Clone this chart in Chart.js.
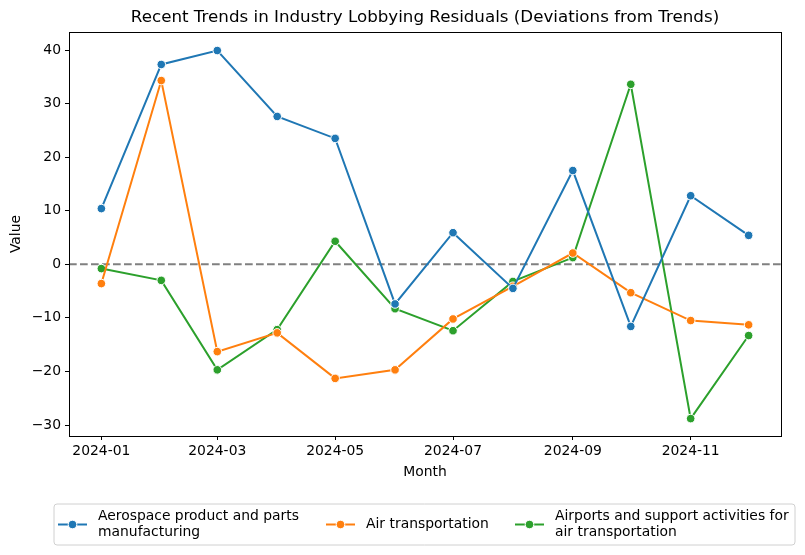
<!DOCTYPE html>
<html>
<head>
<meta charset="utf-8">
<script src="https://cdn.jsdelivr.net/npm/chart.js@4.4.1/dist/chart.umd.min.js"></script>
<style>
  html, body { margin: 0; padding: 0; background: #ffffff; }
  #wrap { width: 805px; height: 555px; position: relative; }
</style>
</head>
<body>
<div id="wrap"><canvas id="c" width="805" height="555"></canvas></div>
<script>
// ---- Data ----
const months = ['2024-01','2024-02','2024-03','2024-04','2024-05','2024-06','2024-07','2024-08','2024-09','2024-10','2024-11','2024-12'];
const aerospace = [10.4, 37.3, 39.9, 27.6, 23.5, -7.4, 5.9, -4.5, 17.5, -11.6, 12.8, 5.4];
const airTransport = [-3.6, 34.3, -16.3, -12.8, -21.3, -19.7, -10.2, -4.1, 2.1, -5.3, -10.5, -11.3];
const airports = [-0.8, -3.0, -19.7, -12.2, 4.3, -8.3, -12.4, -3.2, 1.25, 33.6, -28.8, -13.3];
const xTickLabels = ['2024-01','2024-03','2024-05','2024-07','2024-09','2024-11'];
const yTickValues = [-30, -20, -10, 0, 10, 20, 30, 40];
const seriesNames = [['Aerospace product and parts', 'manufacturing'], ['Air transportation'], ['Airports and support activities for', 'air transportation']];
const titleText = 'Recent Trends in Industry Lobbying Residuals (Deviations from Trends)';

// day offset from 2024-01-01 for a 'YYYY-MM' label
const DAY = 86400000;
function dayOf(label) {
  const [y, m] = label.split('-').map(Number);
  return (Date.UTC(y, m - 1, 1) - Date.UTC(2024, 0, 1)) / DAY;
}
const xs = months.map(dayOf);
const xSpan = xs[xs.length - 1] - xs[0];
const colors = ['#1f77b4', '#ff7f0e', '#2ca02c'];
const FONT = '"DejaVu Sans", sans-serif';
const LW = 2;

function mk(vals, i) {
  return {
    label: seriesNames[i].join(' '),
    data: vals.map((v, k) => ({ x: xs[k], y: v })),
    borderColor: colors[i],
    backgroundColor: colors[i],
    pointBackgroundColor: colors[i],
    pointBorderColor: '#ffffff',
    pointBorderWidth: 1,
    pointRadius: 4.3,
    pointHoverRadius: 4.3,
    borderWidth: LW,
    tension: 0
  };
}

const customDraw = {
  id: 'customDraw',
  beforeDatasetsDraw(chart) {
    const { ctx, chartArea: a, scales: { y } } = chart;
    const py = y.getPixelForValue(0);
    ctx.save();
    ctx.strokeStyle = '#808080';
    ctx.lineWidth = LW;
    ctx.setLineDash([7.7, 3.3]);
    ctx.beginPath();
    ctx.moveTo(a.left, py);
    ctx.lineTo(a.right, py);
    ctx.stroke();
    ctx.restore();
  },
  afterDraw(chart) {
    const { ctx, chartArea: a } = chart;
    ctx.save();
    // frame
    ctx.strokeStyle = '#000000';
    ctx.lineWidth = 1;
    ctx.strokeRect(Math.round(a.left) + 0.5, Math.round(a.top) + 0.5, Math.round(a.right - a.left), Math.round(a.bottom - a.top));
    // title
    ctx.fillStyle = '#000000';
    ctx.font = '16.7px ' + FONT;
    ctx.textAlign = 'center';
    ctx.textBaseline = 'middle';
    ctx.fillText(titleText, (a.left + a.right) / 2, 18);
    // axis titles
    ctx.font = '13.9px ' + FONT;
    ctx.fillText('Month', (a.left + a.right) / 2, 472);
    ctx.save();
    ctx.translate(16, (a.top + a.bottom) / 2);
    ctx.rotate(-Math.PI / 2);
    ctx.fillText('Value', 0, 0);
    ctx.restore();
    // legend
    const bx = 54, by = 504, bw = 741, bh = 41, r = 3;
    ctx.beginPath();
    ctx.moveTo(bx + r, by);
    ctx.lineTo(bx + bw - r, by);
    ctx.quadraticCurveTo(bx + bw, by, bx + bw, by + r);
    ctx.lineTo(bx + bw, by + bh - r);
    ctx.quadraticCurveTo(bx + bw, by + bh, bx + bw - r, by + bh);
    ctx.lineTo(bx + r, by + bh);
    ctx.quadraticCurveTo(bx, by + bh, bx, by + bh - r);
    ctx.lineTo(bx, by + r);
    ctx.quadraticCurveTo(bx, by, bx + r, by);
    ctx.closePath();
    ctx.fillStyle = 'rgba(255,255,255,0.8)';
    ctx.fill();
    ctx.strokeStyle = '#d0d0d0';
    ctx.lineWidth = 1;
    ctx.stroke();
    const handleX = [58, 326, 515];
    const cy = 524.5;
    ctx.textAlign = 'left';
    ctx.textBaseline = 'middle';
    ctx.font = '13.9px ' + FONT;
    seriesNames.forEach((lines, i) => {
      const hx = handleX[i];
      ctx.strokeStyle = colors[i];
      ctx.lineWidth = LW;
      ctx.beginPath();
      ctx.moveTo(hx, cy);
      ctx.lineTo(hx + 29, cy);
      ctx.stroke();
      ctx.beginPath();
      ctx.arc(hx + 14.5, cy, 4.3, 0, Math.PI * 2);
      ctx.fillStyle = colors[i];
      ctx.fill();
      ctx.strokeStyle = '#ffffff';
      ctx.lineWidth = 1;
      ctx.stroke();
      ctx.fillStyle = '#000000';
      const tx = hx + 40;
      if (lines.length === 1) {
        ctx.fillText(lines[0], tx, cy);
      } else {
        ctx.fillText(lines[0], tx, cy - 8);
        ctx.fillText(lines[1], tx, cy + 8);
      }
    });
    ctx.restore();
  }
};

new Chart(document.getElementById('c'), {
  type: 'line',
  data: { datasets: [mk(aerospace, 0), mk(airTransport, 1), mk(airports, 2)] },
  options: {
    responsive: false,
    animation: false,
    devicePixelRatio: 1,
    layout: { padding: { left: 0, right: 24, top: 32, bottom: 89 } },
    plugins: { legend: { display: false }, title: { display: false }, tooltip: { enabled: false } },
    scales: {
      x: {
        type: 'linear',
        min: xs[0] - 0.05 * xSpan,
        max: xs[xs.length - 1] + 0.05 * xSpan,
        afterFit: s => { s.height = 30; },
        afterBuildTicks: s => { s.ticks = xTickLabels.map(l => ({ value: dayOf(l), label: l })); },
        grid: { drawOnChartArea: false, drawTicks: true, tickLength: 4, color: '#000000' },
        border: { display: true, color: '#000000', width: 1 },
        ticks: {
          font: { family: FONT, size: 13.9 }, color: '#000000', padding: 3, maxRotation: 0, autoSkip: false,
          callback: (v) => { const i = xTickLabels.findIndex(l => dayOf(l) === v); return i >= 0 ? xTickLabels[i] : ''; }
        }
      },
      y: {
        type: 'linear',
        min: -32.05,
        max: 43.36,
        afterFit: s => { s.width = 69; },
        afterBuildTicks: s => { s.ticks = yTickValues.map(v => ({ value: v })); },
        grid: { drawOnChartArea: false, drawTicks: true, tickLength: 4, color: '#000000' },
        border: { display: true, color: '#000000', width: 1 },
        ticks: {
          font: { family: FONT, size: 13.9 }, color: '#000000', padding: 4, autoSkip: false,
          callback: v => String(v).replace('-', '\u2212')
        }
      }
    }
  },
  plugins: [customDraw]
});
</script>
</body>
</html>
